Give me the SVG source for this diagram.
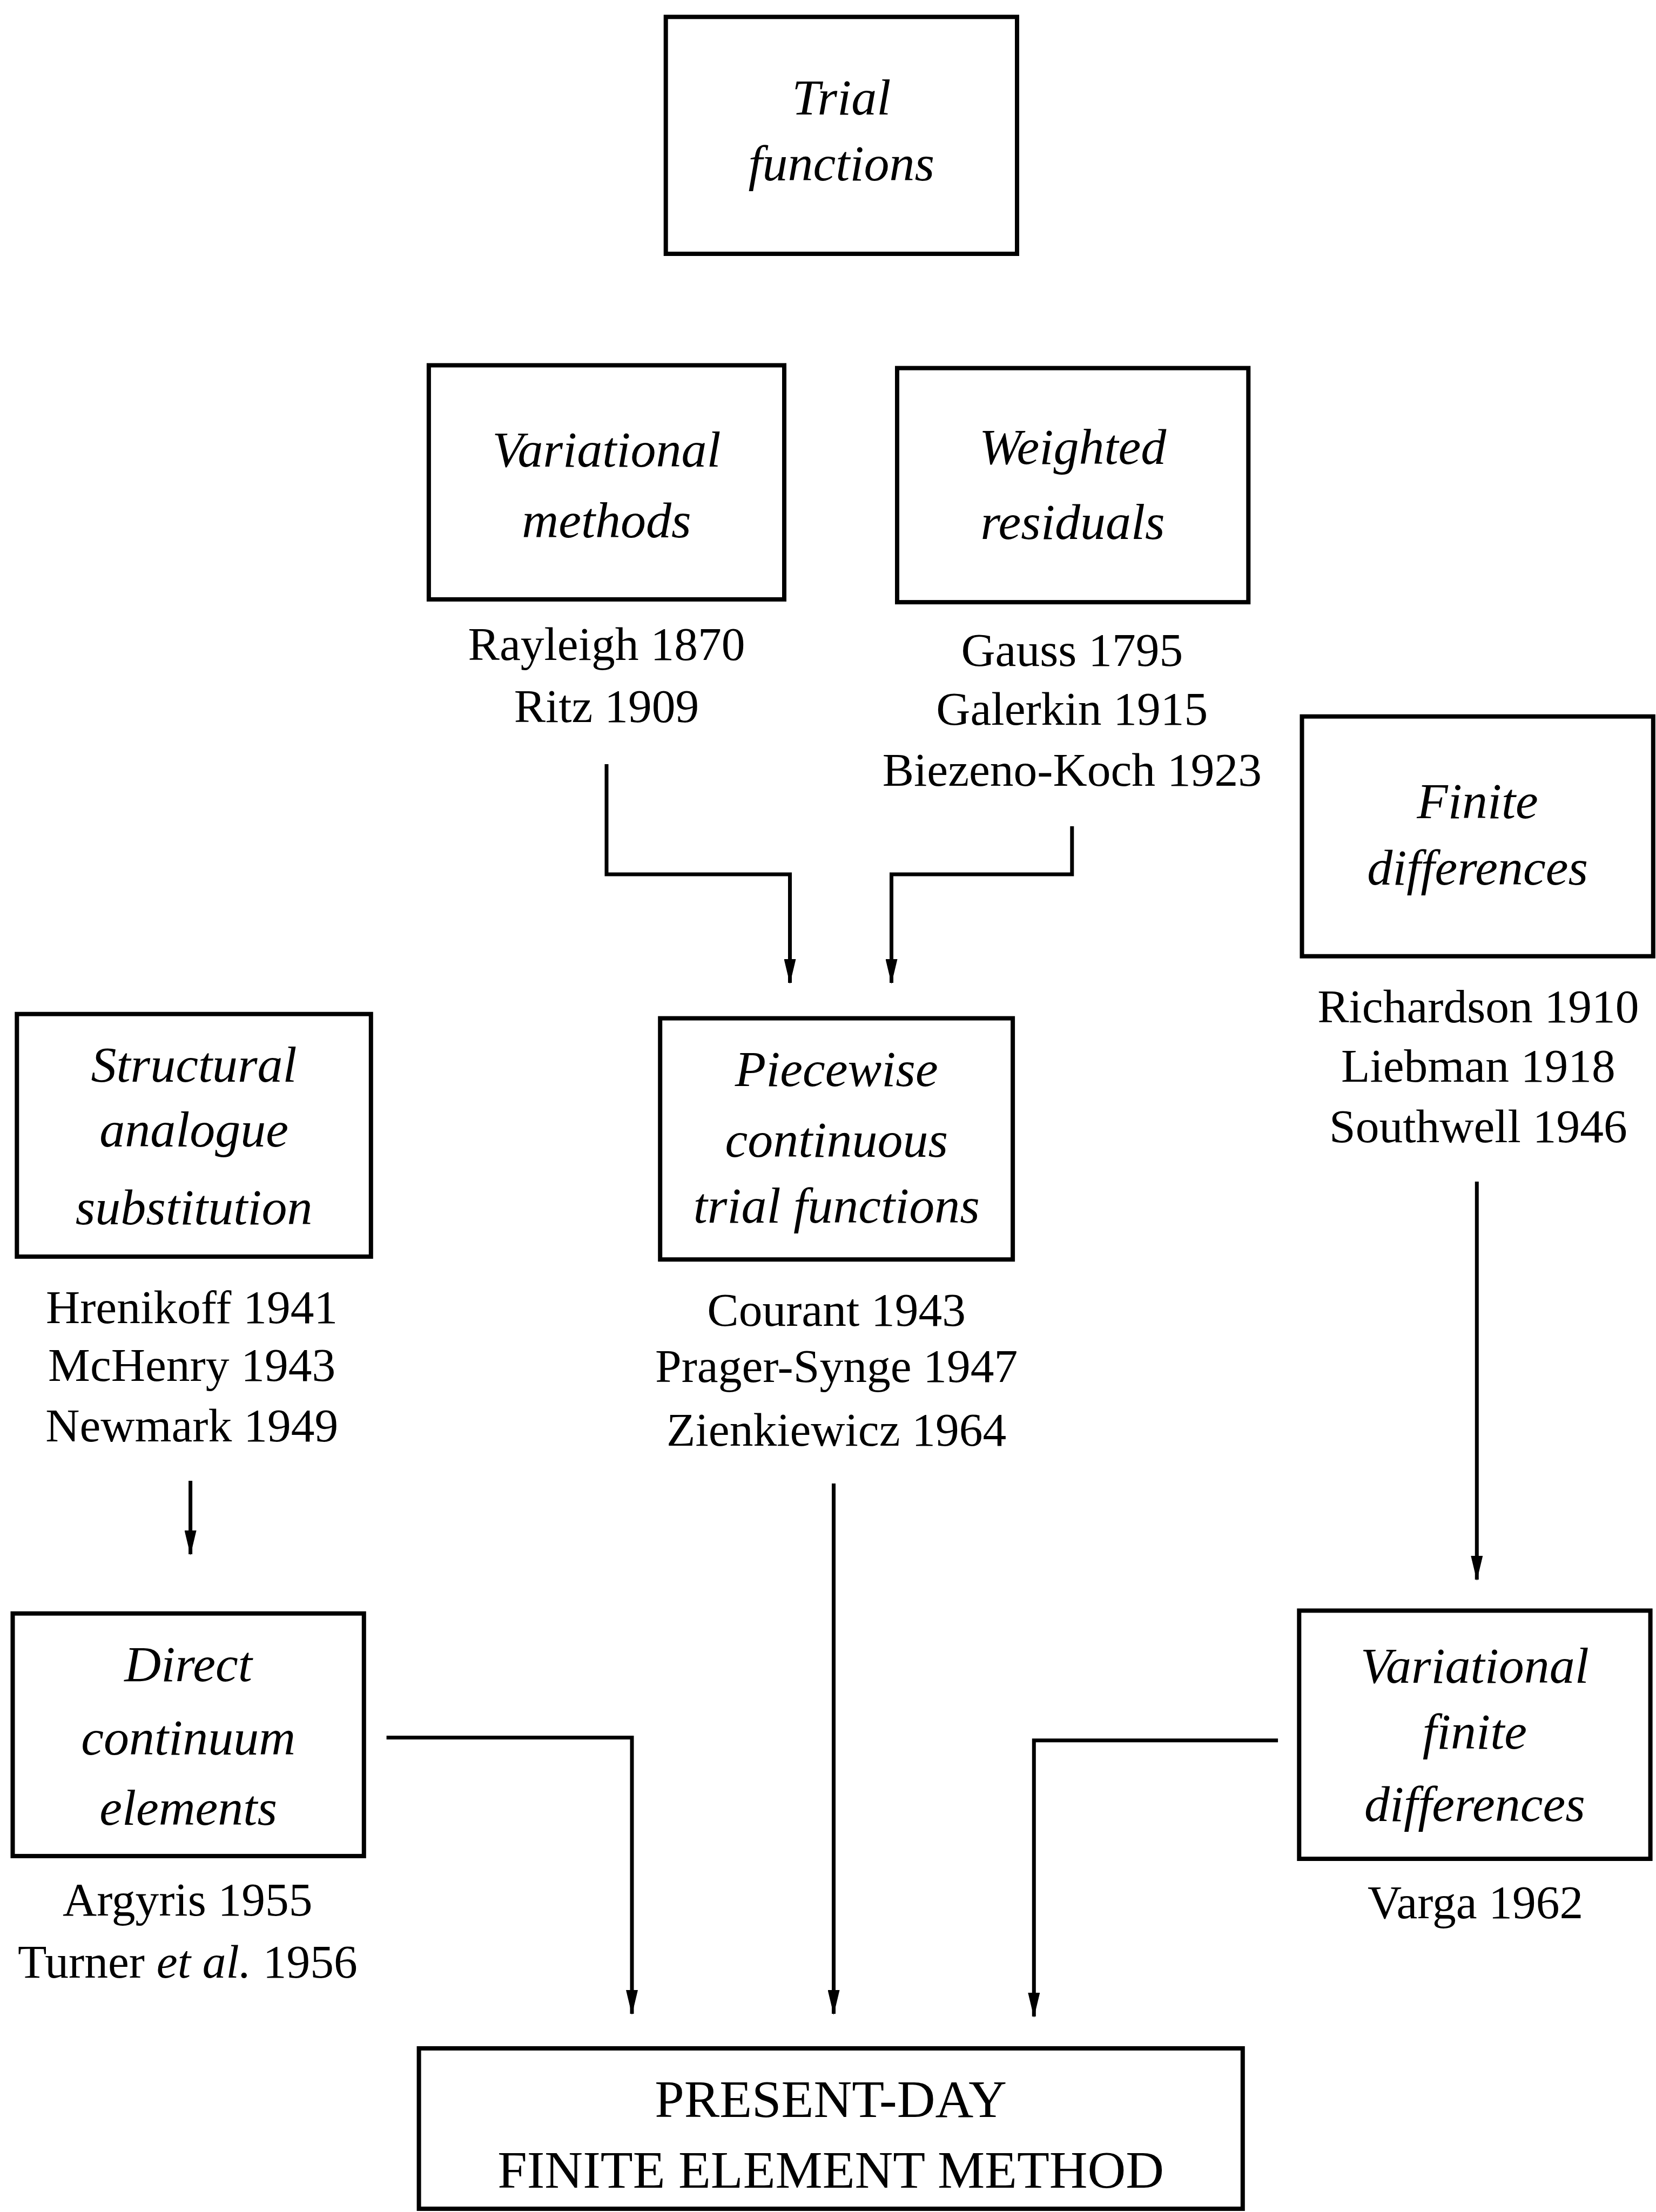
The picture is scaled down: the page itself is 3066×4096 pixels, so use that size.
<svg xmlns="http://www.w3.org/2000/svg" width="3066" height="4096" viewBox="0 0 3066 4096">
<style>
.box{fill:#fff;stroke:#000;stroke-width:8}
.t{font-family:"Liberation Serif","Times New Roman",serif;fill:#000;text-anchor:middle}
.r{font-size:87.5px}
.i{font-size:94px;font-style:italic}
.c{font-size:98px}
.ln{fill:none;stroke:#000;stroke-width:7;marker-end:url(#ah)}
</style>
<defs>
<marker id="ah" viewBox="0 0 46 22" refX="44" refY="11" markerWidth="46" markerHeight="22" markerUnits="userSpaceOnUse" orient="auto">
<path d="M0,0 L46,11 L0,22 Z" fill="#000"/>
</marker>
</defs>
<rect width="3066" height="4096" fill="#fff"/>
<g id="connectors">
<path class="ln" d="M1123,1415 V1619 H1462.5 V1820"/>
<path class="ln" d="M1984.8,1530 V1619 H1650.5 V1820"/>
<path class="ln" d="M352.6,2742 V2878"/>
<path class="ln" d="M2734.3,2188 V2925"/>
<path class="ln" d="M1543.5,2747 V3729"/>
<path class="ln" d="M715.6,3217.5 H1170 V3729"/>
<path class="ln" d="M2366.1,3222.7 H1914.3 V3734"/>
</g>
<g id="trial">
<rect class="box" x="1232.7" y="31.3" width="650.3" height="438.7"/>
<text class="t i" x="1557.8" y="211.5">Trial</text>
<text class="t i" x="1557.8" y="334.3">functions</text>
</g>
<g id="variational">
<rect class="box" x="793.9" y="676.4" width="658.1" height="433.5"/>
<text class="t i" x="1123" y="864.4">Variational</text>
<text class="t i" x="1123" y="995">methods</text>
<text class="t r" x="1123" y="1222.2">Rayleigh 1870</text>
<text class="t r" x="1123" y="1337.1">Ritz 1909</text>
</g>
<g id="weighted">
<rect class="box" x="1661" y="681.6" width="650.3" height="433.5"/>
<text class="t i" x="1986.1" y="859.2">Weighted</text>
<text class="t i" x="1986.1" y="997.6">residuals</text>
<text class="t r" x="1984.8" y="1232.7">Gauss 1795</text>
<text class="t r" x="1984.8" y="1342.4">Galerkin 1915</text>
<text class="t r" x="1984.8" y="1454.7">Biezeno-Koch 1923</text>
</g>
<g id="finitediff">
<rect class="box" x="2410.5" y="1326.7" width="650.3" height="444"/>
<text class="t i" x="2735.6" y="1514.7">Finite</text>
<text class="t i" x="2735.6" y="1637.5">differences</text>
<text class="t r" x="2736.9" y="1893.4">Richardson 1910</text>
<text class="t r" x="2736.9" y="2003.1">Liebman 1918</text>
<text class="t r" x="2736.9" y="2115.4">Southwell 1946</text>
</g>
<g id="structural">
<rect class="box" x="31.3" y="1877.7" width="655.5" height="449.2"/>
<text class="t i" x="359.1" y="2003.1">Structural</text>
<text class="t i" x="359.1" y="2123.2">analogue</text>
<text class="t i" x="359.1" y="2266.9">substitution</text>
<text class="t r" x="355.2" y="2449.7">Hrenikoff 1941</text>
<text class="t r" x="355.2" y="2556.8">McHenry 1943</text>
<text class="t r" x="355.2" y="2669">Newmark 1949</text>
</g>
<g id="piecewise">
<rect class="box" x="1222.2" y="1885.6" width="652.9" height="446.6"/>
<text class="t i" x="1548.7" y="2010.9">Piecewise</text>
<text class="t i" x="1548.7" y="2141.5">continuous</text>
<text class="t i" x="1548.7" y="2264.3">trial functions</text>
<text class="t r" x="1548.7" y="2454.9">Courant 1943</text>
<text class="t r" x="1548.7" y="2559.4">Prager-Synge 1947</text>
<text class="t r" x="1548.7" y="2676.9">Zienkiewicz 1964</text>
</g>
<g id="direct">
<rect class="box" x="23.5" y="2987.7" width="650.3" height="449.2"/>
<text class="t i" x="348.6" y="3113">Direct</text>
<text class="t i" x="348.6" y="3248.8">continuum</text>
<text class="t i" x="348.6" y="3379.4">elements</text>
<text class="t r" x="347.3" y="3546.6">Argyris 1955</text>
<text class="t r" x="347.3" y="3661.5">Turner <tspan font-style="italic">et al.</tspan> 1956</text>
</g>
<g id="varfinite">
<rect class="box" x="2405.3" y="2982.4" width="650.3" height="459.6"/>
<text class="t i" x="2730.4" y="3115.6">Variational</text>
<text class="t i" x="2730.4" y="3238.4">finite</text>
<text class="t i" x="2730.4" y="3371.6">differences</text>
<text class="t r" x="2731.7" y="3551.8">Varga 1962</text>
</g>
<g id="present">
<rect class="box" x="775.6" y="3793" width="1525.2" height="297"/>
<text class="t c" x="1538.2" y="3920">PRESENT-DAY</text>
<text class="t c" x="1538.2" y="4050.6">FINITE ELEMENT METHOD</text>
</g>
</svg>
